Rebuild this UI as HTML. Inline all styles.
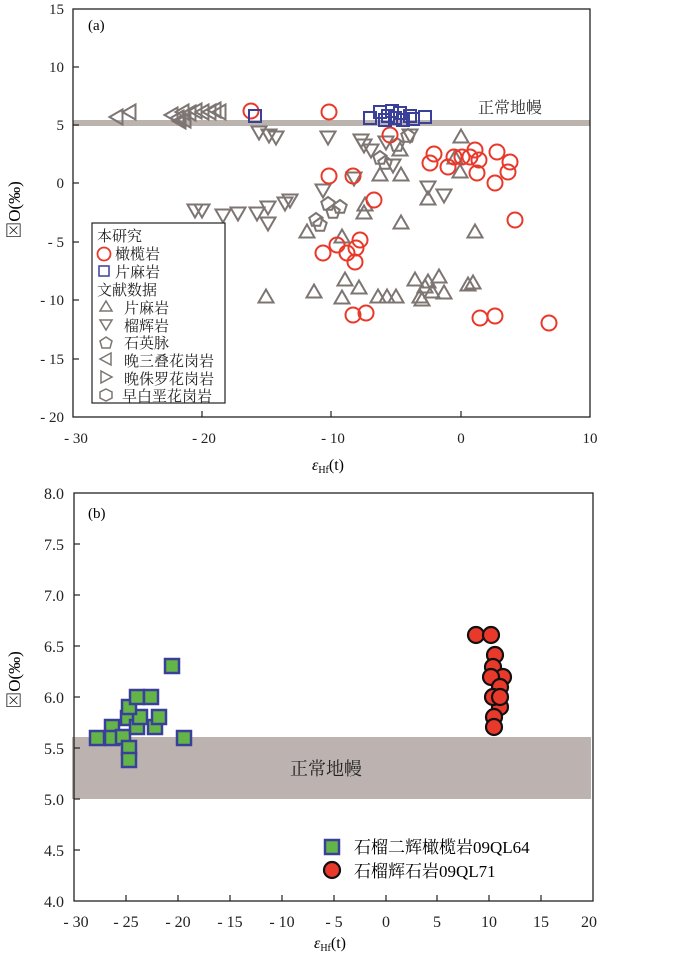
<!DOCTYPE html>
<html><head><meta charset="utf-8"><style>
body{margin:0;background:#fff}
svg text{font-family:"Liberation Serif","Noto Serif CJK SC",serif}
</style></head><body>
<svg width="700" height="956" viewBox="0 0 700 956" xmlns="http://www.w3.org/2000/svg">
<defs>
<g id="tu"><polygon points="0,-7.5 7.5,5.5 -7.5,5.5" fill="none" stroke="#7d7572" stroke-width="2"/></g>
<g id="td"><polygon points="0,7.5 7.5,-5.5 -7.5,-5.5" fill="none" stroke="#7d7572" stroke-width="2"/></g>
<g id="tl"><polygon points="-7.5,0 5.5,-7.5 5.5,7.5" fill="none" stroke="#7d7572" stroke-width="2"/></g>
<g id="pe"><polygon points="0,-7 6.7,-2.2 4.1,5.7 -4.1,5.7 -6.7,-2.2" fill="none" stroke="#7d7572" stroke-width="2"/></g>
<g id="rc"><circle r="7.5" fill="none" stroke="#e8392b" stroke-width="2"/></g>
<g id="bs"><rect x="-6" y="-6" width="12" height="12" fill="none" stroke="#3a3f9a" stroke-width="2"/></g>
<g id="gs"><rect x="-7" y="-7" width="14" height="14" fill="#63b548" stroke="#3a3f9a" stroke-width="2.5"/></g>
<g id="oc"><circle r="8" fill="#e8392b" stroke="#111" stroke-width="2.2"/></g>
</defs>

<!-- Panel a -->
<rect x="73" y="120" width="517" height="6" fill="#bbb3ae"/>
<text x="478" y="113" font-size="16" fill="#333">正常地幔</text>
<g>
<use href="#tl" x="117" y="117"/><use href="#tl" x="130" y="112"/><use href="#tl" x="172" y="115"/><use href="#tl" x="178" y="118"/><use href="#tl" x="183" y="112"/><use href="#tl" x="185" y="120"/><use href="#tl" x="190" y="113"/><use href="#tl" x="196" y="111"/><use href="#tl" x="203" y="112"/><use href="#tl" x="210" y="112"/><use href="#tl" x="215" y="110"/><use href="#tl" x="220" y="112"/><use href="#tl" x="180" y="121"/>
<use href="#td" x="259" y="132"/><use href="#td" x="269" y="135"/><use href="#td" x="276" y="137"/><use href="#td" x="328" y="137"/><use href="#td" x="361" y="140"/><use href="#td" x="364" y="145"/><use href="#td" x="371" y="150"/><use href="#td" x="386" y="142"/><use href="#td" x="410" y="135"/><use href="#td" x="323" y="190"/><use href="#td" x="354" y="178"/><use href="#td" x="428" y="187"/><use href="#td" x="444" y="195"/><use href="#td" x="393" y="165"/>
<use href="#td" x="195" y="210"/><use href="#td" x="202" y="210"/><use href="#td" x="223" y="215"/><use href="#td" x="238" y="213"/><use href="#td" x="257" y="213"/><use href="#td" x="268" y="223"/><use href="#td" x="268" y="207"/><use href="#td" x="285" y="203"/><use href="#td" x="290" y="200"/>
<use href="#tu" x="461" y="137"/><use href="#tu" x="401" y="175"/><use href="#tu" x="380" y="175"/><use href="#tu" x="428" y="199"/><use href="#tu" x="460" y="172"/><use href="#tu" x="455" y="158"/><use href="#tu" x="400" y="150"/>
<use href="#tu" x="266" y="297"/><use href="#tu" x="314" y="292"/><use href="#tu" x="307" y="232"/><use href="#tu" x="364" y="213"/><use href="#tu" x="401" y="223"/><use href="#tu" x="475" y="232"/><use href="#tu" x="342" y="237"/><use href="#tu" x="345" y="280"/><use href="#tu" x="359" y="288"/><use href="#tu" x="342" y="298"/><use href="#tu" x="378" y="297"/><use href="#tu" x="387" y="297"/><use href="#tu" x="396" y="297"/><use href="#tu" x="415" y="280"/><use href="#tu" x="420" y="297"/><use href="#tu" x="425" y="287"/><use href="#tu" x="428" y="282"/><use href="#tu" x="432" y="292"/><use href="#tu" x="439" y="277"/><use href="#tu" x="444" y="293"/><use href="#tu" x="468" y="285"/><use href="#tu" x="473" y="283"/><use href="#tu" x="422" y="300"/><use href="#tu" x="365" y="205"/>
<use href="#pe" x="380" y="158"/><use href="#pe" x="385" y="163"/><use href="#pe" x="397" y="145"/><use href="#pe" x="408" y="136"/><use href="#pe" x="316" y="220"/><use href="#pe" x="320" y="225"/><use href="#pe" x="340" y="207"/><use href="#pe" x="328" y="204"/><use href="#pe" x="333" y="212"/>
</g>
<g>
<use href="#rc" x="251" y="111"/><use href="#rc" x="329" y="112"/><use href="#rc" x="390" y="135"/><use href="#rc" x="434" y="154"/><use href="#rc" x="430" y="163"/><use href="#rc" x="448" y="167"/><use href="#rc" x="454" y="157"/><use href="#rc" x="462" y="157"/><use href="#rc" x="470" y="157"/><use href="#rc" x="475" y="150"/><use href="#rc" x="477" y="173"/><use href="#rc" x="479" y="160"/><use href="#rc" x="497" y="152"/><use href="#rc" x="495" y="183"/><use href="#rc" x="510" y="162"/><use href="#rc" x="508" y="172"/><use href="#rc" x="329" y="176"/><use href="#rc" x="353" y="176"/><use href="#rc" x="374" y="200"/><use href="#rc" x="515" y="220"/>
<use href="#rc" x="323" y="253"/><use href="#rc" x="337" y="245"/><use href="#rc" x="347" y="253"/><use href="#rc" x="356" y="248"/><use href="#rc" x="360" y="240"/><use href="#rc" x="355" y="262"/><use href="#rc" x="353" y="315"/><use href="#rc" x="366" y="313"/><use href="#rc" x="480" y="318"/><use href="#rc" x="495" y="316"/><use href="#rc" x="549" y="323"/>
</g>
<g>
<use href="#bs" x="255" y="116"/><use href="#bs" x="370" y="118"/><use href="#bs" x="380" y="112"/><use href="#bs" x="385" y="120"/><use href="#bs" x="392" y="111"/><use href="#bs" x="395" y="118"/><use href="#bs" x="400" y="113"/><use href="#bs" x="403" y="120"/><use href="#bs" x="410" y="116"/><use href="#bs" x="413" y="119"/><use href="#bs" x="425" y="117"/><use href="#bs" x="388" y="116"/>
</g>
<rect x="73" y="9" width="517" height="408" fill="none" stroke="#222" stroke-width="1.3"/>
<g stroke="#222" stroke-width="1.2">
<line x1="73" y1="67" x2="79" y2="67"/><line x1="73" y1="125" x2="79" y2="125"/><line x1="73" y1="183" x2="79" y2="183"/><line x1="73" y1="242" x2="79" y2="242"/><line x1="73" y1="300" x2="79" y2="300"/><line x1="73" y1="359" x2="79" y2="359"/>
<line x1="202" y1="417" x2="202" y2="411"/><line x1="331" y1="417" x2="331" y2="411"/><line x1="461" y1="417" x2="461" y2="411"/>
</g>
<g font-size="15" fill="#222" text-anchor="end">
<text x="64" y="14">15</text><text x="64" y="72">10</text><text x="64" y="130">5</text><text x="64" y="188">0</text><text x="64" y="247">- 5</text><text x="64" y="305">- 10</text><text x="64" y="364">- 15</text><text x="64" y="422">- 20</text>
</g>
<g font-size="15" fill="#222" text-anchor="middle">
<text x="76" y="443">- 30</text><text x="204" y="443">- 20</text><text x="333" y="443">- 10</text><text x="461" y="443">0</text><text x="590" y="443">10</text>
</g>
<text x="88" y="30" font-size="15">(a)</text>
<text x="312" y="470" font-size="16"><tspan font-style="italic">ε</tspan><tspan font-size="10" dy="3">Hf</tspan><tspan dy="-3">(t)</tspan></text>
<text transform="translate(20,210) rotate(-90)" font-size="17" text-anchor="middle">⊠O(‰)</text>
<!-- legend a -->
<rect x="92" y="223" width="133" height="180" fill="#fff" stroke="#222" stroke-width="1.2"/>
<g font-size="15" fill="#222">
<text x="97" y="241">本研究</text>
<circle cx="104" cy="254" r="6.5" fill="none" stroke="#e8392b" stroke-width="1.8"/><text x="115" y="259">橄榄岩</text>
<rect x="99" y="266" width="10" height="10" fill="none" stroke="#3a3f9a" stroke-width="1.5"/><text x="115" y="277">片麻岩</text>
<text x="97" y="295">文献数据</text>
<polygon points="106,301 112,311 100,311" fill="none" stroke="#7d7572" stroke-width="1.5"/><text x="124" y="313">片麻岩</text>
<polygon points="106,330 112,320 100,320" fill="none" stroke="#7d7572" stroke-width="1.5"/><text x="124" y="331">榴辉岩</text>
<polygon points="106,337 112,341 110,348 102,348 100,341" fill="none" stroke="#7d7572" stroke-width="1.5"/><text x="124" y="348">石英脉</text>
<polygon points="100,359 111,353 111,365" fill="none" stroke="#7d7572" stroke-width="1.5"/><text x="124" y="366">晚三叠花岗岩</text>
<polygon points="112,377 101,371 101,383" fill="none" stroke="#7d7572" stroke-width="1.5"/><text x="124" y="384">晚侏罗花岗岩</text>
<polygon points="106,389 112,392 112,398 106,401 100,398 100,392" fill="none" stroke="#7d7572" stroke-width="1.5"/><text x="122" y="401">早白垩花岗岩</text>
</g>

<!-- Panel b -->
<rect x="72" y="737" width="519" height="62" fill="#bcb3b0"/>
<text x="290" y="775" font-size="18" fill="#222">正常地幔</text>
<g>
<use href="#gs" x="97" y="738"/><use href="#gs" x="112" y="727"/><use href="#gs" x="112" y="738"/><use href="#gs" x="123" y="737"/><use href="#gs" x="129" y="748"/><use href="#gs" x="129" y="760"/><use href="#gs" x="128" y="718"/><use href="#gs" x="137" y="727"/><use href="#gs" x="140" y="717"/><use href="#gs" x="129" y="707"/><use href="#gs" x="137" y="697"/><use href="#gs" x="151" y="697"/><use href="#gs" x="155" y="727"/><use href="#gs" x="159" y="717"/><use href="#gs" x="172" y="666"/><use href="#gs" x="184" y="738"/>
</g>
<g>
<use href="#oc" x="476" y="635"/><use href="#oc" x="491" y="635"/><use href="#oc" x="495" y="655"/><use href="#oc" x="493" y="667"/><use href="#oc" x="503" y="677"/><use href="#oc" x="491" y="677"/><use href="#oc" x="500" y="687"/><use href="#oc" x="500" y="707"/><use href="#oc" x="493" y="697"/><use href="#oc" x="500" y="697"/><use href="#oc" x="494" y="717"/><use href="#oc" x="494" y="727"/>
</g>
<rect x="74" y="493" width="519" height="408" fill="none" stroke="#222" stroke-width="1.3"/>
<g stroke="#222" stroke-width="1.2">
<line x1="74" y1="544" x2="80" y2="544"/><line x1="74" y1="595" x2="80" y2="595"/><line x1="74" y1="646" x2="80" y2="646"/><line x1="74" y1="697" x2="80" y2="697"/><line x1="74" y1="748" x2="80" y2="748"/><line x1="74" y1="799" x2="80" y2="799"/><line x1="74" y1="850" x2="80" y2="850"/>
<line x1="126" y1="901" x2="126" y2="895"/><line x1="178" y1="901" x2="178" y2="895"/><line x1="230" y1="901" x2="230" y2="895"/><line x1="282" y1="901" x2="282" y2="895"/><line x1="334" y1="901" x2="334" y2="895"/><line x1="386" y1="901" x2="386" y2="895"/><line x1="437" y1="901" x2="437" y2="895"/><line x1="489" y1="901" x2="489" y2="895"/><line x1="541" y1="901" x2="541" y2="895"/>
</g>
<g font-size="16" fill="#222" text-anchor="end">
<text x="64" y="499">8.0</text><text x="64" y="550">7.5</text><text x="64" y="601">7.0</text><text x="64" y="652">6.5</text><text x="64" y="703">6.0</text><text x="64" y="754">5.5</text><text x="64" y="805">5.0</text><text x="64" y="856">4.5</text><text x="64" y="907">4.0</text>
</g>
<g font-size="16" fill="#222" text-anchor="middle">
<text x="76" y="927">- 30</text><text x="126" y="927">- 25</text><text x="178" y="927">- 20</text><text x="230" y="927">- 15</text><text x="282" y="927">- 10</text><text x="334" y="927">- 5</text><text x="386" y="927">0</text><text x="437" y="927">5</text><text x="489" y="927">10</text><text x="541" y="927">15</text><text x="589" y="927">20</text>
</g>
<text x="88" y="518" font-size="15">(b)</text>
<text x="314" y="948" font-size="16"><tspan font-style="italic">ε</tspan><tspan font-size="10" dy="3">Hf</tspan><tspan dy="-3">(t)</tspan></text>
<text transform="translate(20,680) rotate(-90)" font-size="17" text-anchor="middle">⊠O(‰)</text>
<use href="#gs" x="332" y="847"/><text x="354" y="853" font-size="17">石榴二辉橄榄岩09QL64</text>
<use href="#oc" x="332" y="870"/><text x="354" y="877" font-size="17">石榴辉石岩09QL71</text>
</svg>
</body></html>
